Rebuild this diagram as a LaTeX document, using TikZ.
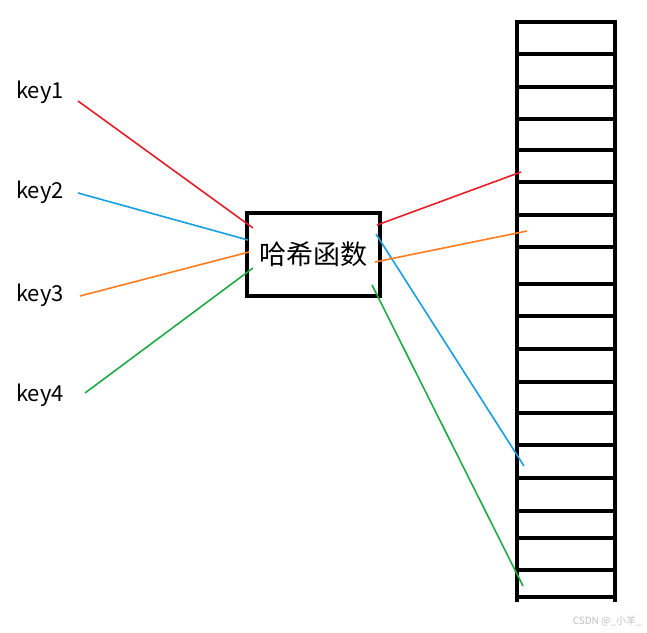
\documentclass[tikz,border=0pt]{standalone}
\usepackage{fontspec}
\setmainfont{Noto Sans CJK SC}
\newfontfamily\cjk{Noto Sans CJK SC}
\begin{document}
\begin{tikzpicture}[x=1pt,y=-1pt,
  cell/.style={line width=4.5pt},
  lk/.style={line width=1.6pt},
  keytext/.style={anchor=west,font=\fontsize{22}{26}\selectfont,inner sep=0pt}]
\useasboundingbox (0,0) rectangle (647,632);
\definecolor{cred}{RGB}{230,30,40}
\definecolor{cblue}{RGB}{20,160,225}
\definecolor{corange}{RGB}{255,125,30}
\definecolor{cgreen}{RGB}{30,170,70}
% column
\draw[cell] (517,22) -- (517,602);
\draw[cell] (615,22) -- (615,602);
\foreach \y in {22,54,87,119,150,182,215,247,284,316,349,382,413,445,478,511,538,570,597}
  \draw[cell] (515,\y) -- (617,\y);
% box
\node[draw,line width=3.5pt,minimum width=133pt,minimum height=83pt,inner sep=0pt,font=\cjk\fontsize{27}{30}\selectfont] (h) at (313.5,254.5) {哈希函数};
\node[keytext] (k1) at (16,92) {key1};
\node[keytext] (k2) at (16,192) {key2};
\node[keytext] (k3) at (16,295) {key3};
\node[keytext] (k4) at (16,395) {key4};
\coordinate (a1) at (253,228); \coordinate (b1) at (377,225); \coordinate (c1) at (521,172);
\coordinate (a2) at (248,240); \coordinate (b2) at (376,234); \coordinate (c2) at (524,466);
\coordinate (a3) at (249,252); \coordinate (b3) at (375,262); \coordinate (c3) at (527,231);
\coordinate (a4) at (253,268); \coordinate (b4) at (372,285); \coordinate (c4) at (523,586);
\draw[lk,cred] (78,101) -- (a1); \draw[lk,cred] (b1) -- (c1);
\draw[lk,cblue] (78,193) -- (a2); \draw[lk,cblue] (b2) -- (c2);
\draw[lk,corange] (80,296) -- (a3); \draw[lk,corange] (b3) -- (c3);
\draw[lk,cgreen] (85,393) -- (a4); \draw[lk,cgreen] (b4) -- (c4);
\node[anchor=east,text=black!25,font=\cjk\fontsize{10}{11}\selectfont,inner sep=0pt] (wm) at (642,621) {CSDN @\_小羊\_};
\end{tikzpicture}
\end{document}
